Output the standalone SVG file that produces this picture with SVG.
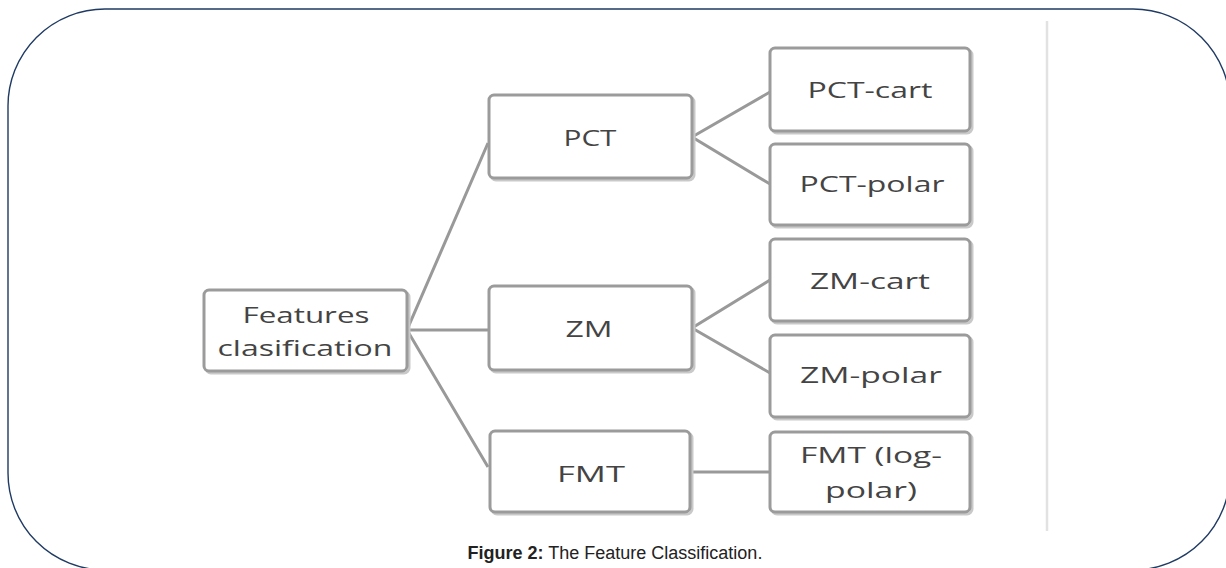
<svg xmlns="http://www.w3.org/2000/svg" width="1226" height="568" viewBox="0 0 1226 568">
  <style>
    .frame { fill: none; stroke: #1f3a63; stroke-width: 1.4; }
    .divider { stroke: #e2e2e2; stroke-width: 2.5; }
    .box { fill: #ffffff; stroke: #9b9b9b; stroke-width: 3; }
    .shadow { fill: none; stroke: #c9c9c9; stroke-width: 3; }
    .link { stroke: #999999; stroke-width: 3; fill: none; }
    .label { font-family: "Open Sans", "DejaVu Sans", sans-serif; font-size: 22px; fill: #444444; text-anchor: middle; }
    .caption { font-family: "Liberation Sans", Arial, sans-serif; font-size: 18px; fill: #222222; text-anchor: middle; }
  </style>

  <rect width="1226" height="568" fill="#ffffff"/>

  <!-- outer rounded frame -->
  <rect class="frame" x="8" y="9" width="1222" height="561" rx="97" ry="97"/>

  <!-- vertical divider on the right -->
  <line class="divider" x1="1047" y1="21" x2="1047" y2="531"/>

  <!-- connectors -->
  <g id="connectors">
    <polyline class="link" points="488,143 407,330 488,467"/>
    <line class="link" x1="407" y1="330" x2="488" y2="330"/>
    <polyline class="link" points="770,92 692,137 770,184"/>
    <polyline class="link" points="770,280 692,328 770,373"/>
    <line class="link" x1="690" y1="472" x2="770" y2="472"/>
  </g>

  <g id="node-features">
    <rect class="shadow" x="206" y="292" width="203" height="81" rx="5"/>
    <rect class="box" x="204" y="290" width="203" height="81" rx="5"/>
    <text class="label" x="306" y="323" textLength="127" lengthAdjust="spacingAndGlyphs">Features</text>
    <text class="label" x="305" y="356" textLength="175" lengthAdjust="spacingAndGlyphs">clasification</text>
  </g>

  <g id="node-pct">
    <rect class="shadow" x="491" y="97" width="203" height="83" rx="5"/>
    <rect class="box" x="489" y="95" width="203" height="83" rx="5"/>
    <text class="label" x="590" y="146" textLength="53" lengthAdjust="spacingAndGlyphs">PCT</text>
  </g>

  <g id="node-zm">
    <rect class="shadow" x="491" y="288" width="203" height="84" rx="5"/>
    <rect class="box" x="489" y="286" width="203" height="84" rx="5"/>
    <text class="label" x="589" y="337" textLength="47" lengthAdjust="spacingAndGlyphs">ZM</text>
  </g>

  <g id="node-fmt">
    <rect class="shadow" x="492" y="433" width="200" height="81" rx="5"/>
    <rect class="box" x="490" y="431" width="200" height="81" rx="5"/>
    <text class="label" x="591" y="482" textLength="68" lengthAdjust="spacingAndGlyphs">FMT</text>
  </g>

  <g id="node-pct-cart">
    <rect class="shadow" x="772" y="50" width="200" height="83" rx="5"/>
    <rect class="box" x="770" y="48" width="200" height="83" rx="5"/>
    <text class="label" x="870" y="98" textLength="125" lengthAdjust="spacingAndGlyphs">PCT-cart</text>
  </g>

  <g id="node-pct-polar">
    <rect class="shadow" x="772" y="146" width="200" height="81" rx="5"/>
    <rect class="box" x="770" y="144" width="200" height="81" rx="5"/>
    <text class="label" x="872" y="192" textLength="145" lengthAdjust="spacingAndGlyphs">PCT-polar</text>
  </g>

  <g id="node-zm-cart">
    <rect class="shadow" x="772" y="241" width="200" height="82" rx="5"/>
    <rect class="box" x="770" y="239" width="200" height="82" rx="5"/>
    <text class="label" x="870" y="289" textLength="120" lengthAdjust="spacingAndGlyphs">ZM-cart</text>
  </g>

  <g id="node-zm-polar">
    <rect class="shadow" x="772" y="337" width="200" height="82" rx="5"/>
    <rect class="box" x="770" y="335" width="200" height="82" rx="5"/>
    <text class="label" x="871" y="383" textLength="142" lengthAdjust="spacingAndGlyphs">ZM-polar</text>
  </g>

  <g id="node-fmt-logpolar">
    <rect class="shadow" x="772" y="434" width="200" height="80" rx="5"/>
    <rect class="box" x="770" y="432" width="200" height="80" rx="5"/>
    <text class="label" x="871" y="463" textLength="142" lengthAdjust="spacingAndGlyphs">FMT (log-</text>
    <text class="label" x="871" y="498" textLength="92" lengthAdjust="spacingAndGlyphs">polar)</text>
  </g>

  <!-- caption -->
  <text class="caption" x="615" y="559"><tspan font-weight="bold">Figure 2:</tspan> The Feature Classification.</text>
</svg>
